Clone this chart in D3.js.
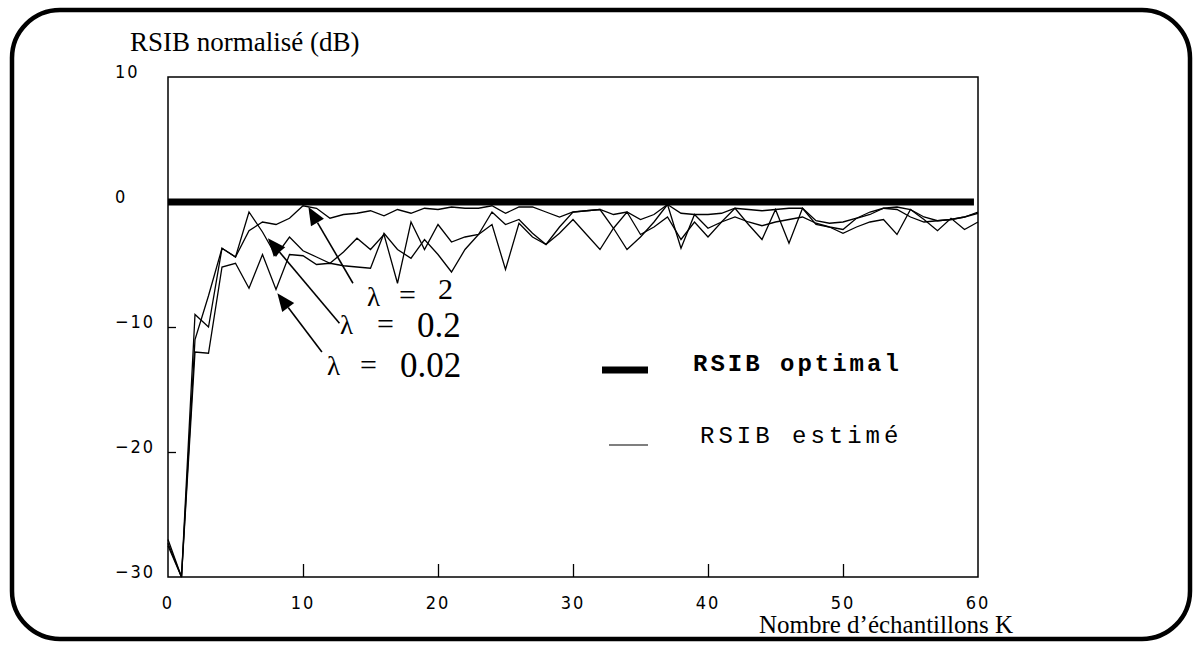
<!DOCTYPE html>
<html><head><meta charset="utf-8">
<script src="https://cdn.jsdelivr.net/npm/d3@7"></script>
<style>html,body{margin:0;padding:0;background:#fff;}svg{display:block;}</style>
</head><body>
<svg id="c" width="1193" height="645"></svg>
<script>
// ---- data ----
const K = d3.range(0, 61);
const lam2 = [-27.3,-30.0,-11.0,-7.5,-3.7,-4.4,-2.3,-1.6,-1.8,-1.3,-0.3,-0.5,-1.3,-1.0,-0.9,-0.7,-1.1,-0.6,-0.9,-0.5,-0.6,-0.4,-0.5,-0.5,-0.3,-0.9,-0.4,-0.4,-0.8,-1.2,-0.8,-0.7,-0.6,-1.0,-0.8,-1.4,-1.0,-0.2,-0.9,-1.0,-1.0,-0.9,-0.5,-0.6,-0.7,-0.6,-0.5,-0.5,-1.5,-1.7,-1.6,-1.3,-0.8,-0.5,-0.4,-0.6,-1.2,-1.5,-1.4,-1.2,-0.8];
const lam02 = [-27.5,-30.0,-9.0,-10.0,-3.7,-4.4,-0.8,-2.4,-4.3,-2.8,-3.9,-4.4,-4.9,-4.0,-2.9,-3.8,-2.6,-6.5,-1.6,-3.8,-1.8,-3.2,-2.8,-2.6,-0.8,-1.8,-1.4,-2.5,-3.4,-2.0,-0.8,-0.7,-0.6,-2.1,-3.8,-2.8,-1.6,-0.2,-3.7,-1.0,-2.1,-1.6,-0.5,-1.8,-3.0,-0.6,-3.3,-0.5,-1.8,-2.0,-2.5,-2.0,-1.6,-1.4,-2.6,-0.6,-1.4,-2.3,-1.3,-2.2,-1.6];
const lam002 = [-27.0,-30.0,-12.0,-12.1,-5.2,-4.9,-6.9,-4.2,-7.0,-4.2,-4.3,-5.0,-4.9,-5.1,-5.2,-5.3,-2.5,-3.8,-4.5,-3.0,-4.2,-5.6,-3.8,-2.6,-1.8,-5.4,-1.7,-2.8,-3.4,-2.5,-1.4,-2.6,-3.8,-2.1,-0.8,-2.6,-2.0,-1.2,-3.0,-1.6,-2.8,-1.6,-1.2,-1.6,-1.9,-1.6,-1.4,-1.2,-1.7,-2.0,-2.2,-1.3,-1.0,-0.5,-0.6,-1.2,-1.6,-1.5,-1.4,-1.2,-0.9];
const optimalK = [0, 59.7];
const optimalV = [0, 0];
const xTicks = [0, 10, 20, 30, 40, 50, 60];
const yTicks = [10, 0, -10, -20, -30];
const lambdaLabels = ["2", "0.2", "0.02"];
// annotation anchors in data units
const arrowTips = [[10.4,-0.4],[7.4,-2.9],[8.1,-7.3]];
const arrowTails = [[13.7,-6.5],[12.7,-9.7],[11.4,-12.0]];
const legendLabels = ["RSIB optimal", "RSIB estimé"];

// ---- layout ----
const svg = d3.select("#c");
const L = 168, R = 978, T = 77, B = 577;
const x = d3.scaleLinear().domain([0, 60]).range([L, R]);
const y = d3.scaleLinear().domain([-30, 10]).range([B, T]);

// outer rounded frame
svg.append("rect").attr("x", 12).attr("y", 10).attr("width", 1178).attr("height", 629)
  .attr("rx", 48).attr("ry", 48).attr("fill", "none").attr("stroke", "#000").attr("stroke-width", 4.5);

// plot frame
svg.append("rect").attr("x", L).attr("y", T).attr("width", R - L).attr("height", B - T)
  .attr("fill", "none").attr("stroke", "#000").attr("stroke-width", 1.5);

// y axis ticks (inward)
const yAx = d3.axisRight(y).tickValues([-10, -20]).tickSize(8).tickFormat("");
svg.append("g").attr("transform", `translate(${L},0)`).call(yAx)
  .call(g => { g.select(".domain").remove(); g.selectAll("line").attr("stroke", "#000").attr("stroke-width", 1.3); });
// x axis ticks (inward)
const xAx = d3.axisTop(x).tickValues([10, 20, 30, 40, 50]).tickSize(13).tickFormat("");
svg.append("g").attr("transform", `translate(0,${B})`).call(xAx)
  .call(g => { g.select(".domain").remove(); g.selectAll("line").attr("stroke", "#000").attr("stroke-width", 1.3); });

const tickFont = "'Liberation Sans Narrow','DejaVu Sans Condensed','Liberation Sans',sans-serif";
svg.append("g").selectAll("text").data(yTicks).join("text")
  .attr("x", 115).attr("y", d => y(d) + 1)
  .attr("font-family", tickFont).attr("font-size", 18).attr("letter-spacing", 2)
  .attr("fill", "#000").text(d => d === 0 ? "0" : (d < 0 ? "\u2212" + (-d) : String(d)));
svg.append("g").selectAll("text").data(xTicks).join("text")
  .attr("x", d => x(d)).attr("y", 609).attr("text-anchor", "middle")
  .attr("font-family", tickFont).attr("font-size", 18).attr("letter-spacing", 2)
  .attr("fill", "#000").text(d => String(d));

const serif = "'Liberation Serif','Times New Roman',serif";
svg.append("text").attr("x", 130).attr("y", 51).attr("font-family", serif).attr("font-size", 27)
  .attr("fill", "#000").text("RSIB normalisé (dB)");
svg.append("text").attr("x", 1013).attr("y", 633).attr("text-anchor", "end").attr("font-family", serif)
  .attr("font-size", 25).attr("fill", "#000").text("Nombre d\u2019échantillons  K");

// optimal thick line
svg.append("line").attr("x1", x(optimalK[0])).attr("x2", x(optimalK[1]))
  .attr("y1", y(optimalV[0])).attr("y2", y(optimalV[1]))
  .attr("stroke", "#000").attr("stroke-width", 7);

// estimated curves
const line = d3.line().x((d, i) => x(K[i])).y(d => y(d));
[lam2, lam02, lam002].forEach(s => {
  svg.append("path").datum(s).attr("d", line).attr("fill", "none")
    .attr("stroke", "#000").attr("stroke-width", 1.3).attr("stroke-linejoin", "miter");
});

// arrows
arrowTips.forEach((tp, i) => {
  const tl = arrowTails[i];
  const x1 = x(tl[0]), y1 = y(tl[1]), x2 = x(tp[0]), y2 = y(tp[1]);
  const ang = Math.atan2(y2 - y1, x2 - x1);
  const hl = 18, hw = 7.5;
  const bx = x2 - hl * Math.cos(ang), by = y2 - hl * Math.sin(ang);
  svg.append("line").attr("x1", x1).attr("y1", y1).attr("x2", bx).attr("y2", by)
    .attr("stroke", "#000").attr("stroke-width", 1.6);
  const p = [[x2, y2],
    [bx + hw * Math.sin(ang), by - hw * Math.cos(ang)],
    [bx - hw * Math.sin(ang), by + hw * Math.cos(ang)]];
  svg.append("path").attr("d", "M" + p.map(q => q.join(",")).join("L") + "Z").attr("fill", "#000");
});

// lambda labels: [lambdaX, lambdaY, eqX, eqY, numX, numY, numSize]
const labPos = [[367, 306, 399, 305, 438, 299, 30], [340, 334, 377, 334, 417, 337, 35], [327, 375, 360, 375, 400, 377, 35]];
lambdaLabels.forEach((t, i) => {
  const [lx, ly, ex, ey, nx, ny, ns] = labPos[i];
  svg.append("text").attr("x", lx).attr("y", ly).attr("font-family", serif).attr("font-size", 27).text("λ");
  svg.append("text").attr("x", ex).attr("y", ey).attr("font-family", serif).attr("font-size", 30).text("=");
  svg.append("text").attr("x", nx).attr("y", ny).attr("font-family", serif).attr("font-size", ns).text(t);
});

// legend
svg.append("line").attr("x1", 602).attr("x2", 648).attr("y1", 370).attr("y2", 370)
  .attr("stroke", "#000").attr("stroke-width", 7);
svg.append("line").attr("x1", 609).attr("x2", 648).attr("y1", 445).attr("y2", 445)
  .attr("stroke", "#000").attr("stroke-width", 1.2);
const mono = "'Liberation Mono','DejaVu Sans Mono',monospace";
svg.append("text").attr("x", 693).attr("y", 371).attr("font-family", mono).attr("font-weight", "bold")
  .attr("font-size", 24).attr("letter-spacing", 3).text(legendLabels[0]);
svg.append("text").attr("x", 700).attr("y", 443).attr("font-family", mono)
  .attr("font-size", 24).attr("letter-spacing", 4).text(legendLabels[1]);
</script>
</body></html>
